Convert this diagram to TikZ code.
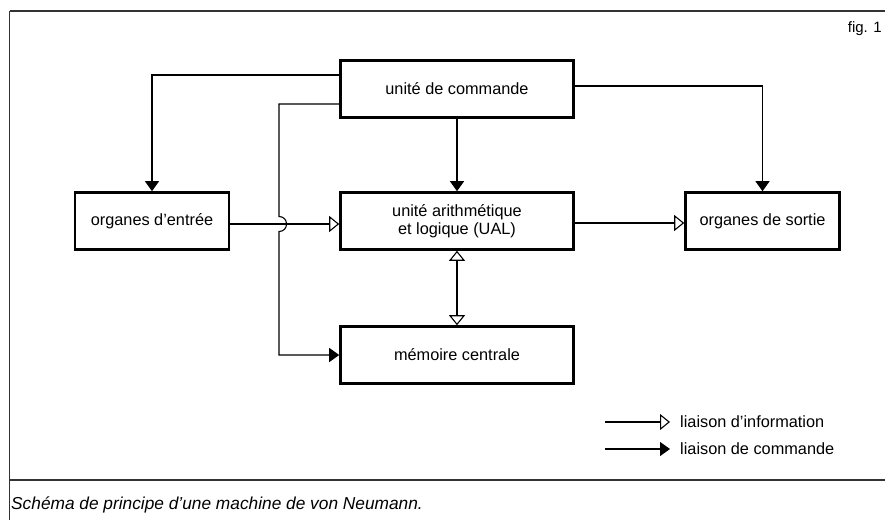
\documentclass[tikz,border=0pt]{standalone}
\usepackage{fontspec}
\setmainfont{Liberation Sans}
\usetikzlibrary{arrows.meta}
\tikzset{
  blk/.style={draw=black, line width=2.6pt, minimum height=57pt, inner sep=0pt, align=center, font=\fontsize{16.3}{18}\selectfont},
  wide/.style={blk, minimum width=233pt},
  narrow/.style={blk, minimum width=154pt},
  conn/.style={draw=black, line width=1.1pt},
  opentip/.tip={Triangle[open, length=10pt, width=16pt, line width=1.1pt]},
  info/.style={conn, -opentip},
  infoboth/.style={conn, opentip-opentip},
  cmdarrow/.style={conn, -{Triangle[length=10pt, width=14pt]}},
  frameline/.style={draw=black!80, line width=1.3pt},
  legtxt/.style={anchor=west, inner xsep=10pt, inner ysep=0pt, font=\fontsize{16.3}{18}\selectfont}
}
\begin{document}
\begin{tikzpicture}[x=1pt, y=-1pt]
\useasboundingbox (0,0) rectangle (885,520);
% frame
\draw[frameline] (9.5,11) -- (885,11);
\draw[frameline] (9.5,11) -- (9.5,520);
\draw[frameline] (9.5,480) -- (885,480);
\node[anchor=east, inner sep=0pt, font=\fontsize{15}{17}\selectfont] (fig) at (882,29) {fig. 1};
\node[anchor=west, inner sep=0pt, font=\fontsize{17.3}{19}\selectfont\itshape] (cap) at (11,505) {Schéma de principe d’une machine de von Neumann.};
% blocks
\node[wide] (cmd) at (457,89) {unité de commande};
\node[wide] (ual) at (457,221) {unité arithmétique\\et logique (UAL)};
\node[wide] (mem) at (457,355) {mémoire centrale};
\node[narrow] (ent) at (152,221) {organes d’entrée};
\node[narrow] (sor) at (762.5,221) {organes de sortie};
% connectors
\draw[cmdarrow] ([yshift=14pt]cmd.west) -| (ent.north);
\draw[cmdarrow] ([yshift=3pt]cmd.east) -| (sor.north);
\draw[cmdarrow] (cmd.south) -- (ual.north);
\coordinate (hopa) at (279,216.5);
\coordinate (hopb) at (279,231.5);
\draw[cmdarrow] ([yshift=-15pt]cmd.west) -| (hopa)
   .. controls (289,216.5) and (289,231.5) .. (hopb) |- (mem.west);
\draw[info] ([yshift=-3pt]ent.east) -- ([yshift=-3pt]ual.west);
\draw[info] ([yshift=-2pt]ual.east) -- ([yshift=-2pt]sor.west);
\draw[infoboth] (ual.south) -- (mem.north);
% legend
\node[legtxt] (l1) at (670,422) {liaison d’information};
\node[legtxt] (l2) at (670,449) {liaison de commande};
\coordinate (l1s) at (605,422);
\coordinate (l2s) at (605,449);
\draw[info] (l1s) -- (l1.west);
\draw[cmdarrow] (l2s) -- (l2.west);
\end{tikzpicture}
\end{document}
